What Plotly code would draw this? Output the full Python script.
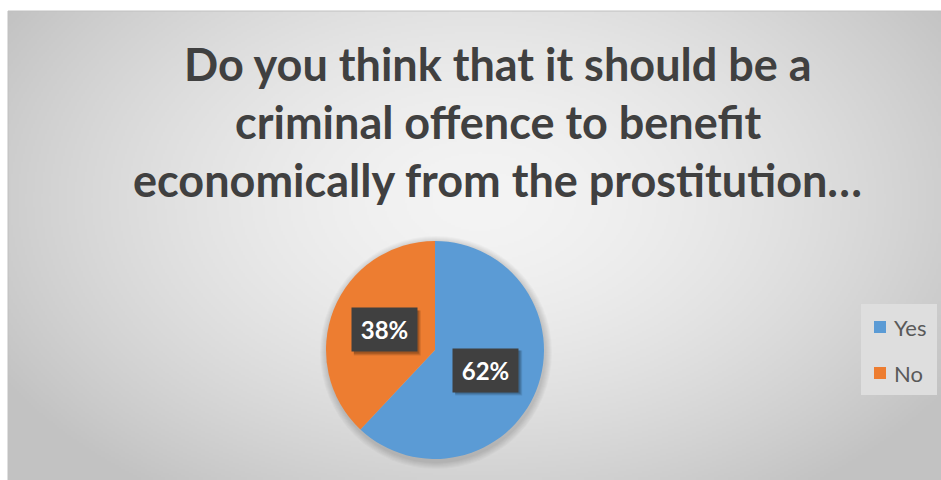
import base64, struct, zlib
import numpy as np
import plotly.graph_objects as go

# ---- data ----
categories = ["Yes", "No"]
values = [62, 38]
colors = ["#5B9BD5", "#ED7D31"]
title_lines = ["Do you think that it should be a",
               "criminal offence to benefit",
               "economically from the prostitution…"]

W, H = 941, 480
def px(x): return x / W
def py(y): return 1 - y / H

# ---- background radial gradient image ----
X0, Y0, X1, Y1 = 8, 11, 941, 480
gw, gh = (X1 - X0) // 2, (Y1 - Y0) // 2
xs = np.linspace(X0, X1, gw)
ys = np.linspace(Y0, Y1, gh)
XX, YY = np.meshgrid(xs, ys)
d = np.sqrt(((XX - 480) / 560) ** 2 + ((YY - 200) / 360) ** 2)
d = np.clip(d, 0, 1)
img = (244 - 50 * d ** 1.6).astype(np.uint8)

def png_gray(a):
    h, w = a.shape
    raw = b"".join(b"\x00" + a[i].tobytes() for i in range(h))
    def chunk(t, data):
        c = struct.pack(">I", len(data)) + t + data
        return c + struct.pack(">I", zlib.crc32(t + data) & 0xffffffff)
    return (b"\x89PNG\r\n\x1a\n" + chunk(b"IHDR", struct.pack(">IIBBBBB", w, h, 8, 0, 0, 0, 0))
            + chunk(b"IDAT", zlib.compress(raw, 9)) + chunk(b"IEND", b""))

src = "data:image/png;base64," + base64.b64encode(png_gray(img)).decode()

# ---- pie geometry ----
CX, CY, R = 435, 350, 109

fig = go.Figure()
fig.add_trace(go.Pie(
    labels=categories, values=values, sort=False, direction="clockwise", rotation=0,
    marker=dict(colors=colors, line=dict(width=0)),
    textinfo="none", hoverinfo="label+percent", showlegend=False,
    domain=dict(x=[px(CX - R), px(CX + R)], y=[py(CY + R), py(CY - R)]),
))

shapes = []
# chart border
shapes.append(dict(type="rect", xref="paper", yref="paper", x0=px(X0), x1=px(W + 5),
                   y0=py(H + 5), y1=py(Y0), line=dict(color="#c0c0c0", width=1),
                   fillcolor="rgba(0,0,0,0)", layer="below"))
# soft pie shadow
for k in range(1, 8):
    shapes.append(dict(type="circle", xref="paper", yref="paper",
                       x0=px(CX - R - k + 1), x1=px(CX + R + k + 1),
                       y0=py(CY + R + k + 3), y1=py(CY - R - k + 2),
                       line=dict(width=0), fillcolor="rgba(0,0,0,0.025)", layer="below"))

annotations = []
# title
for i, line in enumerate(title_lines):
    annotations.append(dict(text=line, x=px(498), y=py(64 + 58 * i), xref="paper", yref="paper",
                            showarrow=False, xanchor="center", yanchor="middle",
                            font=dict(family="Lato", size=45, color="#404040", weight="bold")))

# data labels at half radius of each slice's mid angle
BW, BH = 63, 41
total = sum(values)
cum = 0
for v in values:
    mid = (cum + v / 2) / total * 2 * np.pi
    cum += v
    lx = CX + 0.5 * R * np.sin(mid)
    ly = CY - 0.5 * R * np.cos(mid)
    txt = f"{round(100 * v / total)}%"
    for k, a in ((5, 0.10), (4, 0.12), (3, 0.14)):
        shapes.append(dict(type="rect", xref="paper", yref="paper",
                           x0=px(lx - BW / 2 + 1), x1=px(lx + BW / 2 + k),
                           y0=py(ly + BH / 2 + k), y1=py(ly - BH / 2 + 1),
                           line=dict(width=0), fillcolor=f"rgba(0,0,0,{a})"))
    annotations.append(dict(text=txt, x=px(lx), y=py(ly), xref="paper", yref="paper",
                            xanchor="center", yanchor="middle",
                            showarrow=False, width=BW, height=BH, bgcolor="#404040",
                            font=dict(family="Lato", size=24, color="white", weight="bold")))

# legend
shapes.append(dict(type="rect", xref="paper", yref="paper", x0=px(861), x1=px(937),
                   y0=py(395), y1=py(304), line=dict(width=0), fillcolor="#dedede", layer="below"))
for i, (cat, col) in enumerate(zip(categories, colors)):
    yc = 327 + 46 * i
    shapes.append(dict(type="rect", xref="paper", yref="paper", x0=px(874), x1=px(886),
                       y0=py(yc + 6), y1=py(yc - 6), line=dict(width=0), fillcolor=col))
    annotations.append(dict(text=cat, x=px(892), y=py(yc), xref="paper", yref="paper",
                            showarrow=False, xanchor="left", yanchor="middle",
                            font=dict(family="Lato", size=22, color="#595959")))

fig.update_layout(
    width=W, height=H, margin=dict(l=0, r=0, t=0, b=0),
    paper_bgcolor="white", plot_bgcolor="white",
    images=[dict(source=src, xref="paper", yref="paper", x=px(X0), y=py(Y0),
                 sizex=(X1 - X0) / W, sizey=(Y1 - Y0) / H, sizing="stretch",
                 xanchor="left", yanchor="top", layer="below")],
    shapes=shapes, annotations=annotations,
)
fig.write_html("out.html")
